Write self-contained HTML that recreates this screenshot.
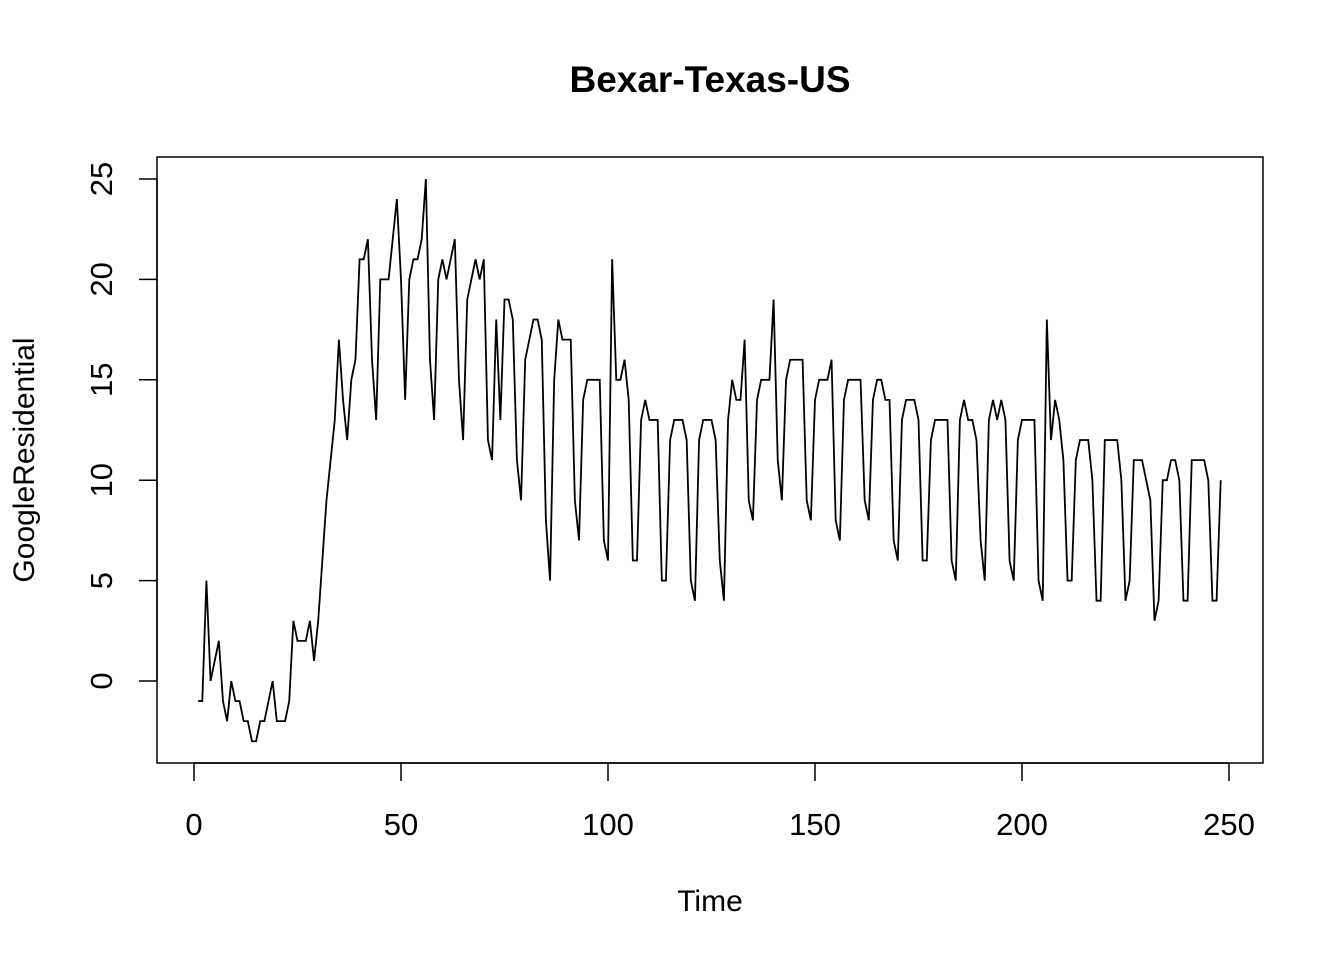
<!DOCTYPE html>
<html><head><meta charset="utf-8"><style>body{margin:0;background:#fff}svg{display:block}</style></head>
<body>
<svg id="chart" width="1344" height="960" font-family="'Liberation Sans', sans-serif">
<text x="710" y="92" font-size="37" font-weight="bold" text-anchor="middle">Bexar-Texas-US</text>
<rect x="157" y="157" width="1106" height="606" fill="none" stroke="#000" stroke-width="1.5"/>
<text x="710" y="911" font-size="30" text-anchor="middle">Time</text>
<text transform="translate(34,460) rotate(-90)" font-size="30" text-anchor="middle">GoogleResidential</text>
<g id="axes"></g>
<polyline id="series" fill="none" stroke="#000" stroke-width="1.8"/>
</svg>
<script>
const startTime = 1;
const values = [-1,-1,5,0,1,2,-1,-2,0,-1,-1,-2,-2,-3,-3,-2,-2,-1,0,-2,-2,-2,-1,3,2,2,2,3,1,3,6,9,11,13,17,14,12,15,16,21,21,22,16,13,20,20,20,22,24,20,14,20,21,21,22,25,16,13,20,21,20,21,22,15,12,19,20,21,20,21,12,11,18,13,19,19,18,11,9,16,17,18,18,17,8,5,15,18,17,17,17,9,7,14,15,15,15,15,7,6,21,15,15,16,14,6,6,13,14,13,13,13,5,5,12,13,13,13,12,5,4,12,13,13,13,12,6,4,13,15,14,14,17,9,8,14,15,15,15,19,11,9,15,16,16,16,16,9,8,14,15,15,15,16,8,7,14,15,15,15,15,9,8,14,15,15,14,14,7,6,13,14,14,14,13,6,6,12,13,13,13,13,6,5,13,14,13,13,12,7,5,13,14,13,14,13,6,5,12,13,13,13,13,5,4,18,12,14,13,11,5,5,11,12,12,12,10,4,4,12,12,12,12,10,4,5,11,11,11,10,9,3,4,10,10,11,11,10,4,4,11,11,11,11,10,4,4,10];
const xTicks = [0,50,100,150,200,250];
const yTicks = [0,5,10,15,20,25];
const X = t => 194 + (t - 0) * (1229 - 194) / 250;
const Y = v => 681 - v * (681 - 179) / 25;
const NS = 'http://www.w3.org/2000/svg';
const g = document.getElementById('axes');
function mk(tag, attrs){const e=document.createElementNS(NS,tag);for(const k in attrs)e.setAttribute(k,attrs[k]);g.appendChild(e);return e;}
let l = mk('line',{x1:X(0),x2:X(250),y1:763,y2:763,stroke:'#000','stroke-width':1.5});


xTicks.forEach(t=>{
  const tk = mk('line',{x1:X(t),x2:X(t),y1:763,y2:781,stroke:'#000','stroke-width':1.5});
  
  
  const tx = mk('text',{x:X(t),y:835,'font-size':31,'text-anchor':'middle'});
  tx.textContent = t;
  
  
});
l = mk('line',{x1:157,x2:157,y1:Y(0),y2:Y(25),stroke:'#000','stroke-width':1.5});


yTicks.forEach(v=>{
  const tk = mk('line',{x1:139,x2:157,y1:Y(v),y2:Y(v),stroke:'#000','stroke-width':1.5});
  
  
  const tx = mk('text',{transform:`translate(112,${Y(v)}) rotate(-90)`,'font-size':31,'text-anchor':'middle'});
  tx.textContent = v;
  
  
});
document.getElementById('series').setAttribute('points', values.map((v,i)=>X(startTime+i)+','+Y(v)).join(' '));
</script>
</body></html>
